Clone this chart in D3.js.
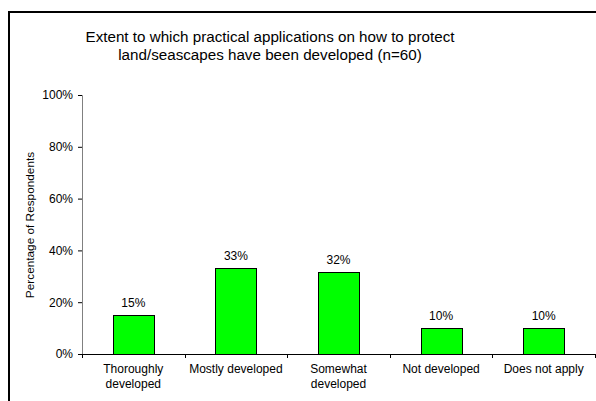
<!DOCTYPE html>
<head>
    <meta charset="utf-8">
    <style>
        body { margin: 0; background: #fff; }
        svg { font-family: "Liberation Sans", Arial, sans-serif; display: block; }
        .frame { stroke: #000; stroke-width: 2; fill: none; }
        .bar { fill: #00ff00; stroke: #000; stroke-width: 1; }
    </style>
</head>
<body>
    <script src="https://d3js.org/d3.v7.min.js"></script>
    <script>
        var categories = [["Thoroughly", "developed"], ["Mostly developed"], ["Somewhat", "developed"], ["Not developed"], ["Does not apply"]];
        var values = [15.0, 33.3, 31.7, 10.0, 10.0];
        var valueLabels = ["15%", "33%", "32%", "10%", "10%"];
        var yTicks = [0, 20, 40, 60, 80, 100];
        var titleLines = ["Extent to which practical applications on how to protect", "land/seascapes have been developed (n=60)"];

        var width = 596, height = 401;
        var plotLeft = 82, plotRight = 595, plotTop = 95, plotBottom = 354;
        var fontSize = "12px";

        var svg = d3.select("body").append("svg")
            .attr("width", width)
            .attr("height", height);

        // outer border: only top and left edges are visible
        svg.append("path")
            .attr("class", "frame")
            .attr("d", "M9,401V12H596");

        svg.selectAll(".title")
            .data(titleLines)
            .enter().append("text")
            .attr("class", "title")
            .attr("x", 270)
            .attr("y", function (d, i) { return 42 + i * 18; })
            .attr("text-anchor", "middle")
            .style("font-size", "15.2px")
            .text(function (d) { return d; });

        var x = d3.scaleBand()
            .domain(d3.range(categories.length))
            .range([plotLeft, plotRight]);

        var y = d3.scaleLinear()
            .domain([0, 100])
            .range([plotBottom, plotTop]);

        // y axis
        var gy = svg.append("g")
            .attr("transform", "translate(" + plotLeft + ",0)")
            .call(d3.axisLeft(y).tickValues(yTicks).tickSize(4).tickFormat(function (d) { return d + "%"; }));
        gy.select(".domain").attr("stroke", "#808080");
        gy.selectAll(".tick line").attr("stroke", "#000");
        gy.selectAll("text").style("font-size", fontSize).attr("fill", "#000").attr("x", -9);

        // bars
        svg.selectAll(".bar")
            .data(values)
            .enter().append("rect")
            .attr("class", "bar")
            .attr("x", function (d, i) { return Math.round(x(i) + x.bandwidth() * 0.3) + 0.5; })
            .attr("y", function (d) { return Math.round(y(d)) + 0.5; })
            .attr("width", Math.round(x.bandwidth() * 0.4))
            .attr("height", function (d) { return plotBottom - Math.round(y(d)); });

        svg.selectAll(".vlabel")
            .data(values)
            .enter().append("text")
            .attr("class", "vlabel")
            .attr("x", function (d, i) { return x(i) + x.bandwidth() / 2; })
            .attr("y", function (d) { return y(d) - 8; })
            .attr("text-anchor", "middle")
            .style("font-size", fontSize)
            .text(function (d, i) { return valueLabels[i]; });

        // x axis
        svg.append("line")
            .attr("x1", plotLeft).attr("x2", plotRight)
            .attr("y1", plotBottom + 0.5).attr("y2", plotBottom + 0.5)
            .attr("stroke", "#000");
        svg.selectAll(".xtick")
            .data(d3.range(categories.length + 1))
            .enter().append("line")
            .attr("class", "xtick")
            .attr("x1", function (d) { return Math.round(plotLeft + d * x.step()) + 0.5; })
            .attr("x2", function (d) { return Math.round(plotLeft + d * x.step()) + 0.5; })
            .attr("y1", plotBottom).attr("y2", plotBottom + 4)
            .attr("stroke", "#000");

        var cat = svg.selectAll(".cat")
            .data(categories)
            .enter().append("text")
            .attr("class", "cat")
            .attr("text-anchor", "middle")
            .style("font-size", fontSize);
        cat.selectAll("tspan")
            .data(function (d, i) { return d.map(function (t) { return { t: t, i: i }; }); })
            .enter().append("tspan")
            .attr("x", function (d) { return x(d.i) + x.bandwidth() / 2; })
            .attr("y", function (d, j) { return 373 + j * 15; })
            .text(function (d) { return d.t; });

        svg.append("text")
            .attr("transform", "translate(34,225) rotate(-90)")
            .attr("text-anchor", "middle")
            .style("font-size", "11.8px")
            .text("Percentage of Respondents");
    </script>
</body>
</html>
